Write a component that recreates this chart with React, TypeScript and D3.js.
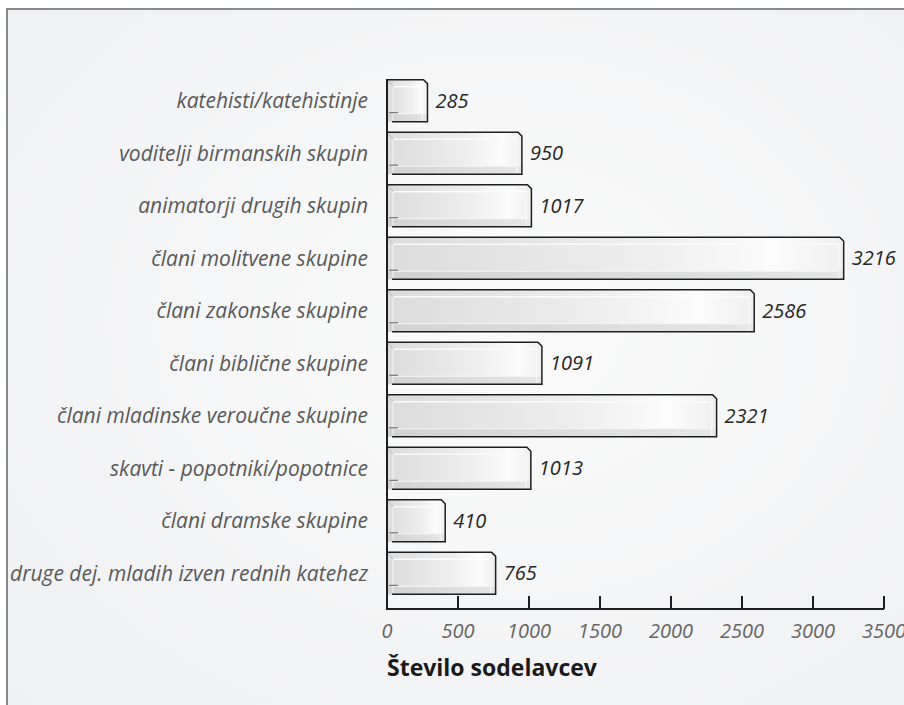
import React from "react";
import * as d3 from "d3";

const categories = [
  "katehisti/katehistinje",
  "voditelji birmanskih skupin",
  "animatorji drugih skupin",
  "člani molitvene skupine",
  "člani zakonske skupine",
  "člani biblične skupine",
  "člani mladinske veroučne skupine",
  "skavti - popotniki/popotnice",
  "člani dramske skupine",
  "druge dej. mladih izven rednih katehez",
];
const values = [285, 950, 1017, 3216, 2586, 1091, 2321, 1013, 410, 765];
const ticks = [0, 500, 1000, 1500, 2000, 2500, 3000, 3500];
const axisTitle = "Število sodelavcev";

const W = 904;
const H = 705;
const FONT = "'Open Sans', sans-serif";

export default function App() {
  const x = d3.scaleLinear().domain([0, 3500]).range([387, 884]);
  const y = d3
    .scaleBand<string>()
    .domain(categories)
    .range([77, 597])
    .paddingInner(0.2)
    .paddingOuter(0.05);
  const axisY = 609;
  const bw = y.bandwidth();

  return (
    <svg
      width={W}
      height={H}
      style={{ position: "absolute", left: 0, top: 0, background: "#fff" }}
    >
      <defs>
        <radialGradient id="bg" cx="0.55" cy="0.45" r="0.75">
          <stop offset="0" stopColor="#fbfbfb" />
          <stop offset="1" stopColor="#eff0f2" />
        </radialGradient>
        <linearGradient id="barFill" x1="0" x2="1" y1="0" y2="0">
          <stop offset="0" stopColor="#dcdcdc" />
          <stop offset="0.6" stopColor="#efefef" />
          <stop offset="0.85" stopColor="#fcfcfc" />
          <stop offset="1" stopColor="#efefef" />
        </linearGradient>
        <linearGradient id="barBottom" x1="0" x2="1" y1="0" y2="0">
          <stop offset="0" stopColor="#d2d2d2" />
          <stop offset="1" stopColor="#e6e6e6" />
        </linearGradient>
      </defs>
      <rect x={7} y={9} width={W} height={H} fill="url(#bg)" stroke="#8a8a8a" strokeWidth={2} />

      {categories.map((c, i) => {
        const x0 = x(0) + 1;
        const x1 = x(values[i]);
        const y0 = y(c)!;
        const y1 = y0 + bw;
        const ch = 4;
        return (
          <g key={c}>
            <rect x={x0} y={y0} width={x1 - x0} height={bw} fill="url(#barFill)" />
            <rect x={x0} y={y1 - 8} width={x1 - x0} height={8} fill="url(#barBottom)" />
            <line x1={x0 + 5} x2={x1 - 5} y1={y0 + 7} y2={y0 + 7} stroke="#fbfbfb" strokeWidth={1.5} />
            <line x1={x0 + 5} x2={x1 - 5} y1={y1 - 8} y2={y1 - 8} stroke="#f6f6f6" strokeWidth={1} />
            <line x1={x0 + 5} x2={x0 + 5} y1={y0 + 7} y2={y1 - 1} stroke="#f4f4f4" strokeWidth={1} />
            <line x1={x0} x2={x0 + 5} y1={y0 + 1} y2={y0 + 7} stroke="#bbb" strokeWidth={1} />
            <line x1={x1 - 5} x2={x1 - 5} y1={y0 + 7} y2={y1 - 1} stroke="#f8f8f8" strokeWidth={1} />
            <path
              d={`M${x0},${y0} L${x1 - ch},${y0} L${x1},${y0 + ch} L${x1},${y1} L${x0 + ch},${y1}`}
              fill="none"
              stroke="#1e1e1e"
              strokeWidth={1.5}
            />
            <line x1={x0 + 1} x2={x0 + 10} y1={y1 - 9} y2={y1 - 9} stroke="#777" strokeWidth={1.2} />
            <text
              x={368}
              y={y0 + bw / 2}
              dy="0.35em"
              textAnchor="end"
              fontFamily={FONT}
              fontStyle="italic"
              fontSize={21}
              fill="#595959"
            >
              {c}
            </text>
            <text
              x={x1 + 8}
              y={y0 + bw / 2}
              dy="0.35em"
              fontFamily={FONT}
              fontStyle="italic"
              fontSize={20}
              fill="#262626"
            >
              {values[i]}
            </text>
          </g>
        );
      })}

      <line x1={387} x2={387} y1={79} y2={axisY + 1} stroke="#1e1e1e" strokeWidth={2} />
      <line x1={386} x2={x(3500)} y1={axisY} y2={axisY} stroke="#1e1e1e" strokeWidth={2} />
      {ticks.map((t) => (
        <g key={t}>
          {t > 0 && (
            <line x1={x(t)} x2={x(t)} y1={axisY - 13} y2={axisY} stroke="#1e1e1e" strokeWidth={2} />
          )}
          <text
            x={x(t)}
            y={638}
            textAnchor="middle"
            fontFamily={FONT}
            fontStyle="italic"
            fontSize={20}
            fill="#666"
          >
            {t}
          </text>
        </g>
      ))}
      <text x={387} y={676} fontFamily={FONT} fontWeight="bold" fontSize={23} fill="#1a1a1a">
        {axisTitle}
      </text>
    </svg>
  );
}
